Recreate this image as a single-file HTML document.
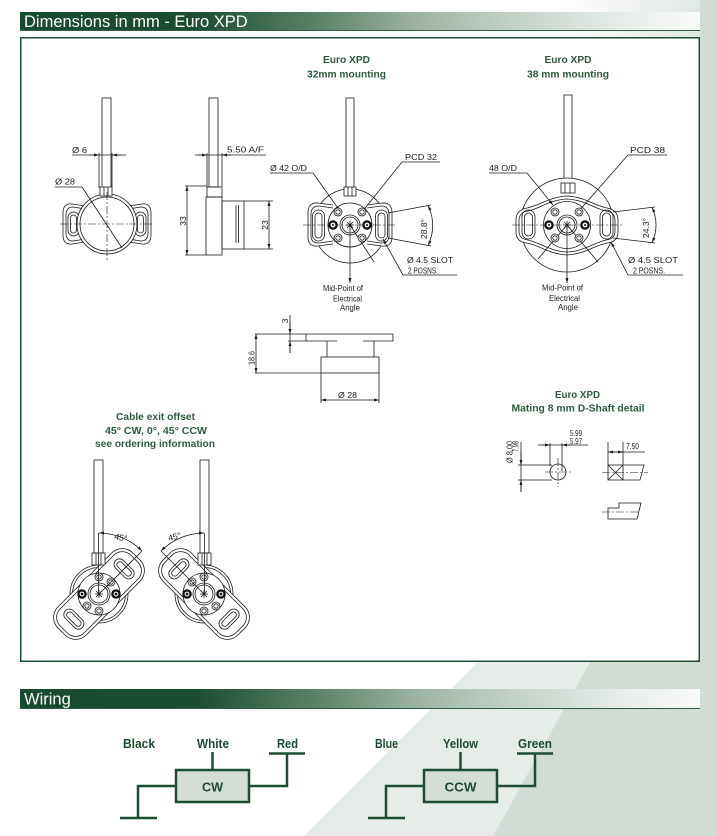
<!DOCTYPE html>
<html><head><meta charset="utf-8"><title>Euro XPD dimensions</title>
<style>
html,body{margin:0;padding:0;background:#fff;width:717px;height:836px;overflow:hidden}
svg{display:block}
.l{stroke:#1a1a1a;stroke-width:.8;fill:none}
.k{stroke-dasharray:8 2 2 2;stroke-width:.6}
.t{font-family:"Liberation Sans Narrow","Liberation Sans",sans-serif;font-size:8.5px;fill:#1a1a1a}
.g{font-family:"Liberation Sans",sans-serif;font-weight:bold;font-size:10px;fill:#2d5a3f}
.wl{font-family:"Liberation Sans",sans-serif;font-weight:bold;font-size:12.5px;fill:#1e4a31}
.h{font-family:"Liberation Sans",sans-serif;font-size:16.5px;fill:#fff}
</style></head><body>
<svg xmlns="http://www.w3.org/2000/svg" width="717" height="836" viewBox="0 0 717 836">
<defs>
<linearGradient id="hg" x1="20" x2="700" y1="0" y2="0" gradientUnits="userSpaceOnUse">
<stop offset="0" stop-color="#174a2f"/>
<stop offset=".26" stop-color="#1b4d33"/>
<stop offset=".44" stop-color="#5b8469"/>
<stop offset=".58" stop-color="#9bb2a2"/>
<stop offset=".72" stop-color="#c3d1c7"/>
<stop offset=".9" stop-color="#eaefeb"/>
<stop offset="1" stop-color="#fafbfa"/>
</linearGradient>
<linearGradient id="tg" x1="0" x2="1" y1="0" y2="0"><stop offset="0" stop-color="#fff"/><stop offset="1" stop-color="#dde5df"/></linearGradient>
<marker id="a" viewBox="0 0 10 6" refX="10" refY="3" markerWidth="5" markerHeight="3" markerUnits="userSpaceOnUse" orient="auto-start-reverse"><path d="M0,0L10,3L0,6z" fill="#1a1a1a"/></marker>
<g id="ho" stroke="#1a1a1a" stroke-width=".8"><circle r="4" fill="#fff"/><circle r="2.2" fill="none"/></g>
<g id="hd"><circle r="3.6" fill="#fff" stroke="#111" stroke-width="2.4"/><circle r="1" fill="#111"/></g>
</defs>

<!-- background -->
<rect width="717" height="836" fill="#fff"/>
<rect x="560" y="0" width="157" height="40" fill="url(#tg)"/>
<polygon points="478,662 590,662 493,836 304,836" fill="#e6ece7"/>
<polygon points="700,0 717,0 717,836 493,836 590,662 700,662" fill="#d1dcd4"/>

<!-- header 1 -->
<rect x="20" y="12" width="680" height="18" fill="url(#hg)"/>
<line x1="20" y1="30.5" x2="700" y2="30.5" stroke="#2f5d41" stroke-width="1"/>
<text class="h" x="24" y="27">Dimensions in mm - Euro XPD</text>

<!-- main box -->
<rect x="20.75" y="37.75" width="678.5" height="623.5" fill="#fff" stroke="#1f4d33" stroke-width="1.5"/>

<!-- ============ Drawing 1: front view ============ -->
<g class="l">
<rect x="102" y="98" width="9" height="90"/>
<line x1="99" y1="153" x2="99" y2="188"/>
<line x1="112" y1="153" x2="112" y2="188"/>
<line x1="72" y1="155" x2="126" y2="155"/>
<line x1="90" y1="155" x2="99" y2="155" marker-end="url(#a)"/>
<line x1="121" y1="155" x2="112" y2="155" marker-end="url(#a)"/>
<line x1="55" y1="187" x2="82" y2="187"/>
<g id="lobe1">
<path fill="#fff" d="M92,207 L72,204 Q63,203 63,213 L63,235 Q63,245 72,244 L92,241"/>
<path d="M92,210 L73,207 Q66,207 66,215 L66,233 Q66,241 73,241 L92,238"/>
<rect x="68" y="212" width="11" height="24" rx="5.5"/>
<rect x="70.5" y="215" width="6" height="18" rx="3"/>
</g>
<use href="#lobe1" transform="translate(214,0) scale(-1,1)"/>
<circle cx="107" cy="224" r="30" fill="#fff"/>
<circle cx="107" cy="224" r="27"/>
<line x1="82" y1="187" x2="122" y2="248"/>
<rect x="100" y="187" width="12" height="9" fill="#fff"/>
<line x1="104" y1="187" x2="104" y2="196"/>
<line x1="108" y1="187" x2="108" y2="196"/>
<line class="k" x1="60" y1="224" x2="154" y2="224"/>
<line class="k" x1="107" y1="192" x2="107" y2="262"/>
</g>
<text class="t" x="72" y="153" textLength="15" lengthAdjust="spacingAndGlyphs">Ø  6</text>
<text class="t" x="55" y="184.5" textLength="20" lengthAdjust="spacingAndGlyphs">Ø  28</text>

<!-- ============ Drawing 2: side view ============ -->
<g class="l">
<rect x="209" y="98" width="9" height="89"/>
<line x1="207" y1="153" x2="207" y2="187"/>
<line x1="222" y1="153" x2="222" y2="187"/>
<line x1="195" y1="155" x2="266" y2="155"/>
<line x1="198" y1="155" x2="207" y2="155" marker-end="url(#a)"/>
<line x1="231" y1="155" x2="222" y2="155" marker-end="url(#a)"/>
<rect x="207" y="187" width="15" height="10"/>
<rect x="206" y="197" width="16" height="58"/>
<rect x="222" y="201" width="22" height="48"/>
<line x1="236" y1="205" x2="236" y2="243"/>
<line x1="238.5" y1="205" x2="238.5" y2="243"/>
<line x1="244" y1="201" x2="273" y2="201"/>
<line x1="244" y1="249" x2="273" y2="249"/>
<line x1="269" y1="201" x2="269" y2="249" marker-start="url(#a)" marker-end="url(#a)"/>
<line x1="185" y1="186" x2="207" y2="186"/>
<line x1="185" y1="255" x2="206" y2="255"/>
<line x1="187" y1="186" x2="187" y2="255" marker-start="url(#a)" marker-end="url(#a)"/>
</g>
<text class="t" x="227" y="152.5" textLength="37" lengthAdjust="spacingAndGlyphs">5.50   A/F</text>
<text class="t" transform="translate(186,221) rotate(-90)" text-anchor="middle">33</text>
<text class="t" transform="translate(268,225) rotate(-90)" text-anchor="middle">23</text>

<!-- ============ Drawing 3: 32mm mounting ============ -->
<text class="g" x="346.5" y="63" text-anchor="middle" textLength="47" lengthAdjust="spacingAndGlyphs">Euro XPD</text>
<text class="g" x="346.5" y="77.5" text-anchor="middle" textLength="79" lengthAdjust="spacingAndGlyphs">32mm mounting</text>
<g class="l">
<rect x="346" y="98" width="8" height="90"/>
<circle cx="350" cy="226" r="37" fill="#fff"/>
<g id="lobe3">
<path fill="#fff" d="M333,205 L318,203 Q308,202 308,213 L308,237 Q308,247 318,246 L333,244"/>
<path d="M333,208 L319,206 Q311,206 311,214 L311,236 Q311,243 319,243 L333,241"/>
<rect x="312.5" y="210" width="12" height="31" rx="6"/>
<rect x="315" y="213" width="7" height="25" rx="3.5"/>
</g>
<use href="#lobe3" transform="translate(700,0) scale(-1,1)"/>
<circle cx="350" cy="225" r="22" fill="#fff"/>
<circle cx="350" cy="225" r="10"/>
<circle cx="350" cy="225" r="8"/>
<path d="M346,225 h8 M350,221 v8 M347,222 l6,6 M353,222 l-6,6"/>
<rect x="344" y="187" width="12" height="9" fill="#fff"/>
<line x1="348" y1="187" x2="348" y2="196"/>
<line x1="352" y1="187" x2="352" y2="196"/>
<line class="k" x1="303" y1="225" x2="397" y2="225"/>
<line x1="270" y1="173" x2="313" y2="173"/>
<line x1="313" y1="173" x2="340" y2="211" marker-end="url(#a)"/>
<line x1="402" y1="162" x2="440" y2="162"/>
<line x1="402" y1="162" x2="362" y2="212" marker-end="url(#a)"/>
<line x1="388" y1="213" x2="431" y2="205"/>
<line x1="388" y1="238" x2="431" y2="246"/>
<path d="M428,205.5 A45,45 0 0 1 428,245.5" marker-start="url(#a)" marker-end="url(#a)"/>
<line x1="403" y1="275" x2="457" y2="275"/>
<line x1="403" y1="275" x2="383" y2="239" marker-end="url(#a)"/>
<line x1="350" y1="225" x2="374" y2="262"/>
<line x1="350" y1="225" x2="350" y2="283" marker-end="url(#a)"/>
</g>
<use href="#ho" x="338" y="212"/><use href="#ho" x="362" y="212"/>
<use href="#ho" x="338" y="238"/><use href="#ho" x="362" y="238"/>
<use href="#hd" x="333" y="225"/><use href="#hd" x="367" y="225"/>
<text class="t" x="270" y="171" textLength="37" lengthAdjust="spacingAndGlyphs">Ø  42   O/D</text>
<text class="t" x="405" y="160" textLength="32" lengthAdjust="spacingAndGlyphs">PCD    32</text>
<text class="t" transform="translate(427,229) rotate(-90)" text-anchor="middle" font-size="7.5">28.8°</text>
<text class="t" x="407" y="263" textLength="46" lengthAdjust="spacingAndGlyphs">Ø  4.5    SLOT</text>
<text class="t" x="408" y="273.5" textLength="30" lengthAdjust="spacingAndGlyphs">2 POSNS.</text>
<text class="t" x="323" y="291" font-size="10" textLength="40" lengthAdjust="spacingAndGlyphs">Mid-Point of</text>
<text class="t" x="333" y="301.5" font-size="10" textLength="29" lengthAdjust="spacingAndGlyphs">Electrical</text>
<text class="t" x="340" y="310.5" font-size="10" textLength="20" lengthAdjust="spacingAndGlyphs">Angle</text>

<!-- ============ Drawing 4: 38mm mounting ============ -->
<text class="g" x="568" y="63" text-anchor="middle" textLength="47" lengthAdjust="spacingAndGlyphs">Euro XPD</text>
<text class="g" x="568" y="77.5" text-anchor="middle" textLength="82" lengthAdjust="spacingAndGlyphs">38 mm mounting</text>
<g class="l">
<rect x="564" y="95" width="8" height="88"/>
<circle cx="567" cy="225" r="47" fill="#fff"/>
<path fill="#fff" d="M527,208 C541,205 549,197 567,196 C585,197 593,205 607,208 Q618,210 618,220 L618,232 Q618,242 607,243 C593,246 585,254 567,255 C549,254 541,246 527,243 Q516,242 516,232 L516,220 Q516,210 527,208 Z"/>
<path d="M528,211 C541,208 549,200 567,199 C585,200 593,208 606,211 Q615,212 615,221 L615,231 Q615,239 606,240 C593,243 585,251 567,252 C549,251 541,243 528,240 Q519,239 519,231 L519,221 Q519,212 528,211 Z"/>
<rect x="522" y="210" width="13" height="29" rx="6.5"/>
<rect x="524.5" y="213" width="8" height="23" rx="4"/>
<rect x="600" y="210" width="13" height="29" rx="6.5"/>
<rect x="602.5" y="213" width="8" height="23" rx="4"/>
<circle cx="567" cy="225" r="23.5" fill="#fff"/>
<circle cx="567" cy="225" r="10"/>
<circle cx="567" cy="225" r="8"/>
<path d="M563,225 h8 M567,221 v8 M564,222 l6,6 M570,222 l-6,6"/>
<rect x="561" y="183" width="14" height="10" fill="#fff"/>
<line x1="565" y1="183" x2="565" y2="193"/>
<line x1="570" y1="183" x2="570" y2="193"/>
<line class="k" x1="512" y1="225" x2="622" y2="225"/>
<line x1="489" y1="173" x2="527" y2="173"/>
<line x1="527" y1="173" x2="553" y2="205" marker-end="url(#a)"/>
<line x1="628" y1="155" x2="667" y2="155"/>
<line x1="628" y1="155" x2="578" y2="212" marker-end="url(#a)"/>
<line x1="613" y1="212" x2="655" y2="207"/>
<line x1="613" y1="238" x2="655" y2="243"/>
<path d="M652,207.5 A40,40 0 0 1 652,242.5" marker-start="url(#a)" marker-end="url(#a)"/>
<line x1="628" y1="275" x2="683" y2="275"/>
<line x1="628" y1="275" x2="611" y2="242" marker-end="url(#a)"/>
<line x1="567" y1="225" x2="598" y2="262"/>
<line x1="567" y1="225" x2="538" y2="259"/>
<line x1="567" y1="225" x2="567" y2="283" marker-end="url(#a)"/>
</g>
<use href="#ho" x="555" y="212"/><use href="#ho" x="579" y="212"/>
<use href="#ho" x="555" y="238"/><use href="#ho" x="579" y="238"/>
<use href="#hd" x="549" y="225"/><use href="#hd" x="585" y="225"/>
<text class="t" x="489" y="171" textLength="28" lengthAdjust="spacingAndGlyphs">48   O/D</text>
<text class="t" x="630" y="153" textLength="35" lengthAdjust="spacingAndGlyphs">PCD    38</text>
<text class="t" transform="translate(649,228) rotate(-90)" text-anchor="middle" font-size="7.5">24.3°</text>
<text class="t" x="628" y="263" textLength="50" lengthAdjust="spacingAndGlyphs">Ø  4.5    SLOT</text>
<text class="t" x="633" y="273.5" textLength="32" lengthAdjust="spacingAndGlyphs">2 POSNS.</text>
<text class="t" x="542" y="290.5" font-size="10" textLength="41" lengthAdjust="spacingAndGlyphs">Mid-Point of</text>
<text class="t" x="549" y="301" font-size="10" textLength="31" lengthAdjust="spacingAndGlyphs">Electrical</text>
<text class="t" x="558" y="310" font-size="10" textLength="20" lengthAdjust="spacingAndGlyphs">Angle</text>

<!-- ============ Drawing 5: side section ============ -->
<g class="l">
<line x1="255" y1="334" x2="393" y2="334"/>
<line x1="393" y1="334" x2="393" y2="341"/>
<line x1="306" y1="334" x2="306" y2="341"/>
<line x1="288" y1="341" x2="337" y2="341"/>
<line x1="363" y1="341" x2="393" y2="341"/>
<line x1="327" y1="341" x2="327" y2="357"/>
<line x1="374" y1="341" x2="374" y2="357"/>
<rect x="321" y="357" width="58" height="16"/>
<line x1="255" y1="373" x2="321" y2="373"/>
<line x1="256" y1="334" x2="256" y2="373" marker-start="url(#a)" marker-end="url(#a)"/>
<line x1="290" y1="315" x2="290" y2="353"/>
<line x1="290" y1="322" x2="290" y2="334" marker-end="url(#a)"/>
<line x1="290" y1="353" x2="290" y2="341" marker-end="url(#a)"/>
<line x1="321" y1="373" x2="321" y2="403"/>
<line x1="379" y1="373" x2="379" y2="403"/>
<line x1="321" y1="400" x2="379" y2="400" marker-start="url(#a)" marker-end="url(#a)"/>
</g>
<text class="t" transform="translate(288,321) rotate(-90)" text-anchor="middle">3</text>
<text class="t" transform="translate(254.5,358) rotate(-90)" text-anchor="middle" textLength="14" lengthAdjust="spacingAndGlyphs">18.6</text>
<text class="t" x="338" y="398" textLength="19" lengthAdjust="spacingAndGlyphs">Ø  28</text>

<!-- ============ Drawing 6: cable exit offset ============ -->
<text class="g" x="155.5" y="420" text-anchor="middle" textLength="79" lengthAdjust="spacingAndGlyphs">Cable exit offset</text>
<text class="g" x="156" y="434" text-anchor="middle" textLength="102" lengthAdjust="spacingAndGlyphs">45° CW, 0°, 45° CCW</text>
<text class="g" x="155" y="447" text-anchor="middle" textLength="120" lengthAdjust="spacingAndGlyphs">see ordering information</text>
<g id="exitL" class="l">
<rect x="94" y="460" width="9" height="93"/>
<g transform="translate(99,594)">
<circle r="29" fill="#fff"/>
<circle r="26.5"/>
<g transform="rotate(-45)">
<rect x="-53" y="-20" width="106" height="40" rx="15" fill="#fff"/>
<rect x="-50" y="-17" width="100" height="34" rx="12"/>
<rect x="30" y="-12" width="11" height="24" rx="5.5"/>
<rect x="32.5" y="-9" width="6" height="18" rx="3"/>
<rect x="-41" y="-12" width="11" height="24" rx="5.5"/>
<rect x="-38.5" y="-9" width="6" height="18" rx="3"/>
</g>
<circle r="21" fill="#fff"/>
<circle r="11"/><circle r="9"/>
<path d="M-4,0 h8 M0,-4 v8 M-3,-3 l6,6 M3,-3 l-6,6"/>
<use href="#ho" x="0" y="-17"/><use href="#ho" x="12" y="-12"/>
<use href="#ho" x="-12" y="12"/><use href="#ho" x="0" y="17"/>
<use href="#hd" x="-17" y="0"/><use href="#hd" x="17" y="0"/>
</g>
<rect x="92" y="553" width="13" height="12" fill="#fff"/>
<line x1="96" y1="553" x2="96" y2="565"/>
<line x1="101" y1="553" x2="101" y2="565"/>
</g>
<use href="#exitL" transform="translate(303,0) scale(-1,1)"/>
<g class="l">
<line x1="98.5" y1="533" x2="98.5" y2="594"/>
<line x1="99" y1="594" x2="142" y2="551"/>
<path d="M99,533 A61,61 0 0 1 142,551" marker-start="url(#a)" marker-end="url(#a)"/>
<line x1="204.5" y1="533" x2="204.5" y2="594"/>
<line x1="204" y1="594" x2="161" y2="551"/>
<path d="M204,533 A61,61 0 0 0 161,551" marker-start="url(#a)" marker-end="url(#a)"/>
</g>
<text class="t" transform="translate(114,539) rotate(12)">45°</text>
<text class="t" transform="translate(169,541) rotate(-14)">45°</text>

<!-- ============ Drawing 7: D-shaft detail ============ -->
<text class="g" x="577.5" y="398" text-anchor="middle" textLength="45" lengthAdjust="spacingAndGlyphs">Euro XPD</text>
<text class="g" x="578" y="411.5" text-anchor="middle" font-size="10.4" textLength="133" lengthAdjust="spacingAndGlyphs">Mating 8 mm D-Shaft detail</text>
<g class="l">
<line x1="521" y1="442" x2="521" y2="492"/>
<line x1="521" y1="452" x2="521" y2="465" marker-end="url(#a)"/>
<line x1="521" y1="492" x2="521" y2="480" marker-end="url(#a)"/>
<line x1="518" y1="465" x2="552" y2="465"/>
<line x1="518" y1="480" x2="552" y2="480"/>
<circle cx="558" cy="472" r="8"/>
<line class="k" x1="545" y1="472" x2="573" y2="472"/>
<line class="k" x1="558" y1="458" x2="558" y2="487"/>
<line x1="550" y1="443" x2="550" y2="466"/>
<line x1="562" y1="443" x2="562" y2="471"/>
<line x1="538" y1="445" x2="588" y2="445"/>
<line x1="541" y1="445" x2="550" y2="445" marker-end="url(#a)"/>
<line x1="571" y1="445" x2="562" y2="445" marker-end="url(#a)"/>
<rect x="608" y="465" width="15" height="15"/>
<line x1="608" y1="465" x2="623" y2="480"/>
<line x1="623" y1="465" x2="608" y2="480"/>
<line x1="608" y1="442" x2="608" y2="465"/>
<line x1="623" y1="442" x2="623" y2="465"/>
<line x1="608" y1="452" x2="645" y2="452"/>
<line x1="616" y1="452" x2="608" y2="452" marker-end="url(#a)"/>
<line x1="615" y1="452" x2="623" y2="452" marker-end="url(#a)"/>
<polyline points="623,465 644,465 640,480 623,480"/>
<line class="k" x1="602" y1="472.5" x2="648" y2="472.5"/>
<path d="M608,508 L619,508 L619,503 L641,503 L637,519 L608,519 Z"/>
<line class="k" x1="602" y1="512" x2="638" y2="512"/>
</g>
<text class="t" x="570" y="436" font-size="7.5" textLength="12" lengthAdjust="spacingAndGlyphs">5.99</text>
<text class="t" x="570" y="444" font-size="7.5" textLength="12" lengthAdjust="spacingAndGlyphs">5.97</text>
<text class="t" transform="translate(512.5,463) rotate(-90)" font-size="7.5" textLength="22" lengthAdjust="spacingAndGlyphs">Ø  8.00</text>
<text class="t" transform="translate(518.5,452) rotate(-90)" font-size="7.5" textLength="11" lengthAdjust="spacingAndGlyphs">7.98</text>
<text class="t" x="626" y="449" font-size="7.5" textLength="13" lengthAdjust="spacingAndGlyphs">7.50</text>

<!-- ============ Wiring ============ -->
<rect x="20" y="689" width="680" height="19" fill="url(#hg)"/>
<line x1="20" y1="708.5" x2="700" y2="708.5" stroke="#2f5d41" stroke-width="1"/>
<text class="h" x="24" y="704.5">Wiring</text>

<g stroke="#1f4d33" stroke-width="2.5" fill="none">
<line x1="212.5" y1="752" x2="212.5" y2="769"/>
<line x1="269" y1="753.5" x2="305" y2="753.5"/>
<polyline points="287,753.5 287,786 250,786"/>
<polyline points="176,786 138,786 138,818"/>
<line x1="120" y1="818" x2="157" y2="818"/>
<line x1="460.5" y1="752" x2="460.5" y2="769"/>
<line x1="517" y1="753.5" x2="553" y2="753.5"/>
<polyline points="535,753.5 535,786 498,786"/>
<polyline points="424,786 386,786 386,818"/>
<line x1="368" y1="818" x2="405" y2="818"/>
</g>
<rect x="176" y="770" width="73" height="32" fill="#d4ddd6" stroke="#1f4d33" stroke-width="2.5"/>
<rect x="424" y="770" width="73" height="32" fill="#d4ddd6" stroke="#1f4d33" stroke-width="2.5"/>
<text class="wl" x="212.5" y="791.5" text-anchor="middle" font-size="14" textLength="21" lengthAdjust="spacingAndGlyphs">CW</text>
<text class="wl" x="460.5" y="791.5" text-anchor="middle" font-size="14" textLength="32" lengthAdjust="spacingAndGlyphs">CCW</text>
<text class="wl" x="123" y="748" textLength="32" lengthAdjust="spacingAndGlyphs">Black</text>
<text class="wl" x="197" y="748" textLength="32" lengthAdjust="spacingAndGlyphs">White</text>
<text class="wl" x="277" y="748" textLength="21" lengthAdjust="spacingAndGlyphs">Red</text>
<text class="wl" x="375" y="748" textLength="23" lengthAdjust="spacingAndGlyphs">Blue</text>
<text class="wl" x="443" y="748" textLength="35" lengthAdjust="spacingAndGlyphs">Yellow</text>
<text class="wl" x="518" y="748" textLength="34" lengthAdjust="spacingAndGlyphs">Green</text>
</svg>
</body></html>
